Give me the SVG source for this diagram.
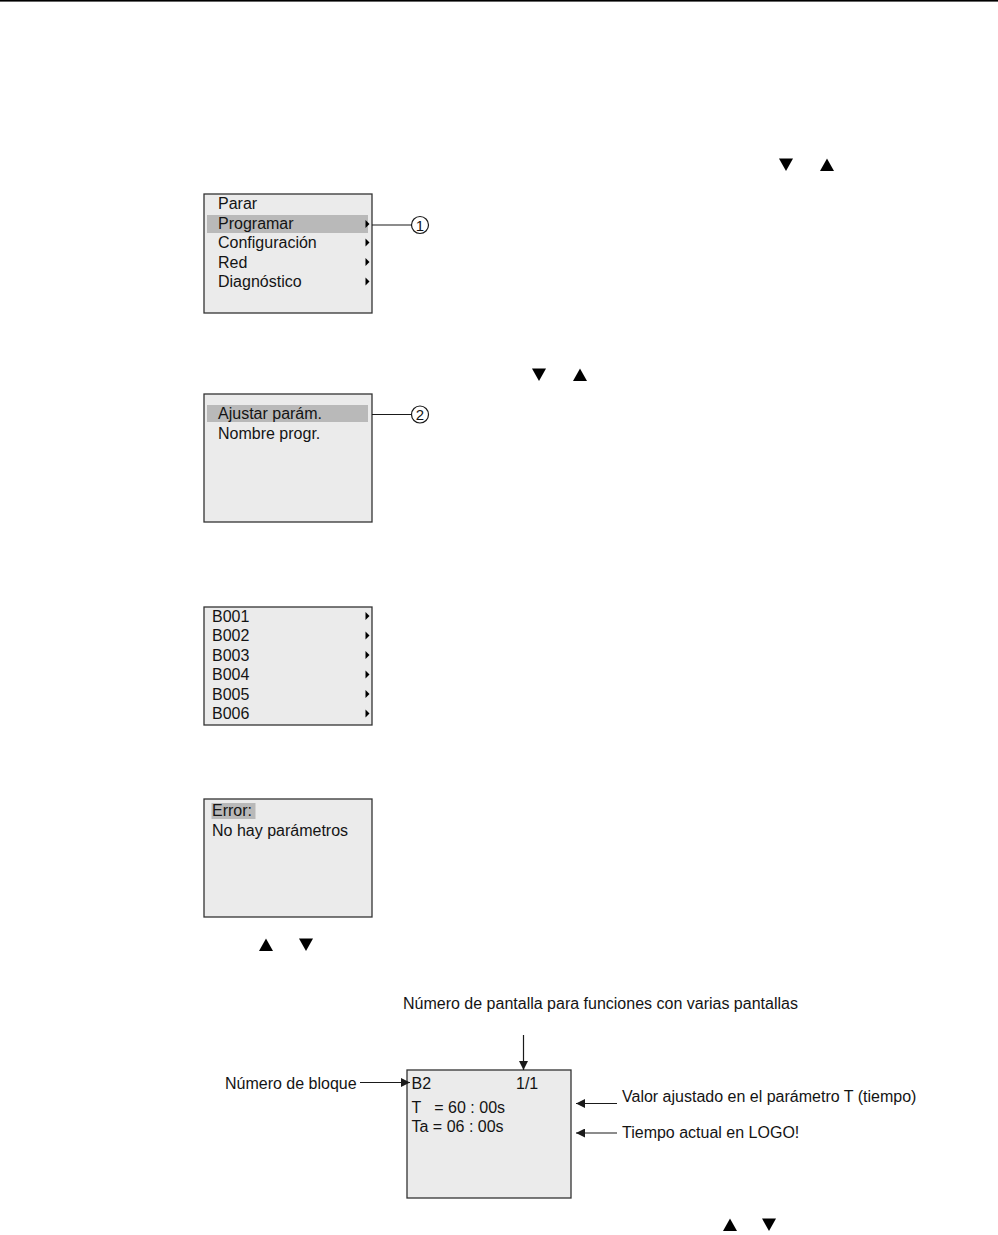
<svg xmlns="http://www.w3.org/2000/svg" width="998" height="1235" viewBox="0 0 998 1235">
<style>
text{font-family:"Liberation Sans",Arial,sans-serif;font-size:16px;fill:#141414}
.box{fill:#ebebeb;stroke:#333;stroke-width:1.3}
.hl{fill:#b9b9b9}
.tri{fill:#000}
.ln{stroke:#1a1a1a;stroke-width:1.2;fill:none}
.num{font-size:15px;text-anchor:middle}
.circ{fill:#fff;stroke:#1a1a1a;stroke-width:1.2}
</style>
<defs>
<marker id="ah" viewBox="0 0 10 10" refX="10" refY="5" markerWidth="9" markerHeight="9" markerUnits="userSpaceOnUse" orient="auto"><path d="M0,0 L10,5 L0,10 z" fill="#1a1a1a"/></marker>
</defs>
<rect x="0" y="0" width="998" height="1.6" fill="#000"/>

<g id="keys1">
<polygon class="tri" points="779,158.5 793,158.5 786,171"/>
<polygon class="tri" points="820,171 834,171 827,158.5"/>
</g>

<g id="menu1">
<rect class="box" x="204" y="194" width="168" height="119"/>
<rect class="hl" x="207" y="215" width="161" height="18"/>
<text x="218" y="209">Parar</text>
<text x="218" y="228.5">Programar</text>
<text x="218" y="248">Configuración</text>
<text x="218" y="267.5">Red</text>
<text x="218" y="287">Diagnóstico</text>
<polygon class="tri" points="365.5,220 369.5,224 365.5,228"/>
<polygon class="tri" points="365.5,238.5 369.5,242.5 365.5,246.5"/>
<polygon class="tri" points="365.5,258 369.5,262 365.5,266"/>
<polygon class="tri" points="365.5,277.5 369.5,281.5 365.5,285.5"/>
</g>

<g id="callout1">
<circle class="circ" cx="420" cy="225" r="8.5"/>
<text class="num" x="420" y="230.5">1</text>
</g>

<g id="keys2">
<polygon class="tri" points="532,368.5 546,368.5 539,381"/>
<polygon class="tri" points="573,381 587,381 580,368.5"/>
</g>

<g id="menu2">
<rect class="box" x="204" y="394" width="168" height="128"/>
<rect class="hl" x="207" y="405" width="161" height="17"/>
<text x="218" y="419">Ajustar parám.</text>
<text x="218" y="438.5">Nombre progr.</text>
</g>

<g id="callout2">
<circle class="circ" cx="420" cy="414.5" r="8.5"/>
<text class="num" x="420" y="420">2</text>
</g>

<g id="blocks">
<rect class="box" x="204" y="607" width="168" height="118"/>
<text x="212" y="621.5">B001</text>
<text x="212" y="641">B002</text>
<text x="212" y="660.5">B003</text>
<text x="212" y="680">B004</text>
<text x="212" y="699.5">B005</text>
<text x="212" y="719">B006</text>
<polygon class="tri" points="365.5,612 369.5,616 365.5,620"/>
<polygon class="tri" points="365.5,631.5 369.5,635.5 365.5,639.5"/>
<polygon class="tri" points="365.5,651 369.5,655 365.5,659"/>
<polygon class="tri" points="365.5,670.5 369.5,674.5 365.5,678.5"/>
<polygon class="tri" points="365.5,690 369.5,694 365.5,698"/>
<polygon class="tri" points="365.5,709.5 369.5,713.5 365.5,717.5"/>
</g>

<g id="error">
<rect class="box" x="204" y="799" width="168" height="118"/>
<rect class="hl" x="211.5" y="803" width="44" height="16"/>
<text x="212" y="816">Error:</text>
<text x="212" y="835.5">No hay parámetros</text>
</g>

<g id="keys3">
<polygon class="tri" points="259,951 273,951 266,938.5"/>
<polygon class="tri" points="299,938.5 313,938.5 306,951"/>
</g>

<g id="param">
<rect class="box" x="407" y="1070" width="164" height="128"/>
<text x="411.5" y="1089">B2</text>
<text x="516" y="1089">1/1</text>
<text x="411.5" y="1112.5" xml:space="preserve">T   = 60 : 00s</text>
<text x="411.5" y="1132">Ta = 06 : 00s</text>
</g>

<g id="labels">
<text x="403" y="1008.5">Número de pantalla para funciones con varias pantallas</text>
<text x="225" y="1088.5">Número de bloque</text>
<text x="622" y="1101.5">Valor ajustado en el parámetro T (tiempo)</text>
<text x="622" y="1138">Tiempo actual en LOGO!</text>
</g>

<g id="connectors">
<line class="ln" x1="372" y1="225" x2="411.5" y2="225"/>
<line class="ln" x1="372" y1="414.5" x2="411.5" y2="414.5"/>
<line class="ln" x1="523.5" y1="1035" x2="523.5" y2="1070" marker-end="url(#ah)"/>
<line class="ln" x1="360" y1="1082.5" x2="410" y2="1082.5" marker-end="url(#ah)"/>
<line class="ln" x1="617" y1="1103.5" x2="576" y2="1103.5" marker-end="url(#ah)"/>
<line class="ln" x1="617" y1="1133" x2="576" y2="1133" marker-end="url(#ah)"/>
</g>

<g id="keys4">
<polygon class="tri" points="723,1231 737,1231 730,1218.5"/>
<polygon class="tri" points="762,1218.5 776,1218.5 769,1231"/>
</g>
</svg>
